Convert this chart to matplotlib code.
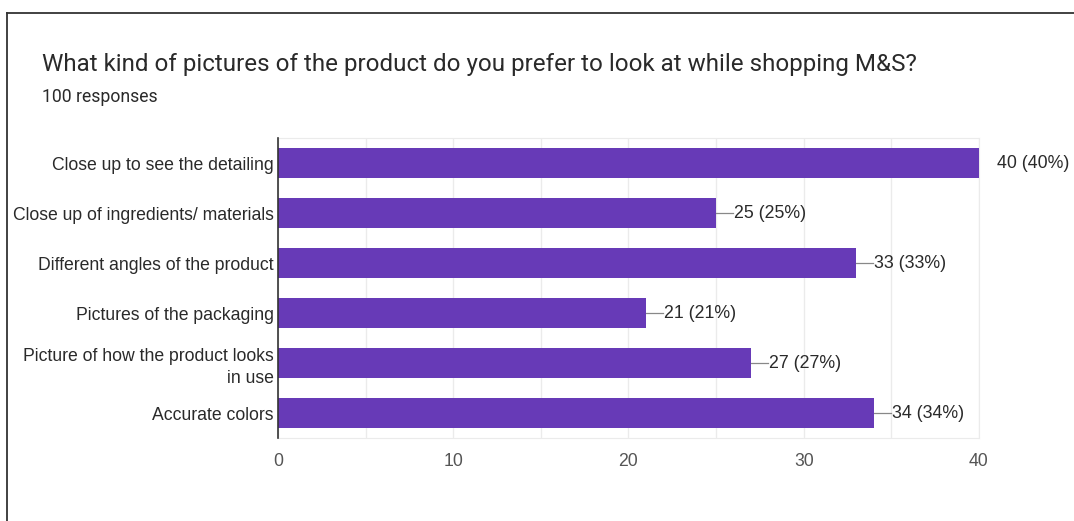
import matplotlib.pyplot as plt
from matplotlib.lines import Line2D

categories = [
    'Close up to see the detailing',
    'Close up of ingredients/ materials',
    'Different angles of the product',
    'Pictures of the packaging',
    'Picture of how the product looks\nin use',
    'Accurate colors',
]
counts = [40, 25, 33, 21, 27, 34]
total_responses = 100
x_ticks = [0, 10, 20, 30, 40]

title = 'What kind of pictures of the product do you prefer to look at while shopping M&S?'
subtitle = '100 responses'

purple = '#673ab7'
text_col = '#2a2a2a'

fig = plt.figure(figsize=(10.74, 5.21), dpi=100)
ax = fig.add_axes([0.2588, 0.1593, 0.6527, 0.5758])

y = list(range(len(categories)))
ax.barh(y, counts, height=0.6, color=purple, zorder=3)
ax.set_ylim(len(categories) - 0.5, -0.5)
ax.set_xlim(0, 40)

# value labels; leader lines only for bars that stop inside the plot area
px = 40 / (979 - 278)
for yi, c in zip(y, counts):
    if c < ax.get_xlim()[1]:
        ax.plot([c, c + 17 * px], [yi, yi], color='#888888', lw=0.9,
                zorder=2, clip_on=False)
    ax.text(c + 18 * px, yi, f'{c} ({c * 100 // total_responses}%)',
            va='center', ha='left', fontsize=12.8, color=text_col,
            family='Liberation Sans')

ax.set_yticks(y)
ax.set_yticklabels(categories, fontsize=12.7, color=text_col,
                   family='Liberation Sans', ha='right', linespacing=1.35)
ax.set_xticks(x_ticks)
ax.set_xticklabels([str(t) for t in x_ticks], fontsize=12.7, color='#555555',
                   family='Liberation Sans')
ax.set_xticks([5, 15, 25, 35], minor=True)
ax.tick_params(axis='both', which='both', length=0)
ax.tick_params(axis='y', pad=3)
ax.tick_params(axis='x', pad=11)

ax.grid(axis='x', which='both', color='#ebebeb', lw=1, zorder=0)
for side in ['top', 'bottom', 'right']:
    ax.spines[side].set_color('#ebebeb')
ax.spines['left'].set_color('#333333')
ax.spines['left'].set_linewidth(1.2)
ax.spines['left'].set_zorder(4)

fig.text(42 / 1074, 1 - 65 / 521, title, fontsize=17.4, color=text_col,
         family='Roboto', va='center', ha='left')
fig.text(42 / 1074, 1 - 97 / 521, subtitle, fontsize=12.7, color=text_col,
         family='Roboto', va='center', ha='left')

# outer frame (top and left edges)
fig.add_artist(Line2D([7 / 1074, 1], [1 - 13 / 521, 1 - 13 / 521],
                      color='#333333', lw=1.3, transform=fig.transFigure))
fig.add_artist(Line2D([7 / 1074, 7 / 1074], [0, 1 - 13 / 521],
                      color='#333333', lw=1.3, transform=fig.transFigure))

fig.savefig('out.png', dpi=100)
